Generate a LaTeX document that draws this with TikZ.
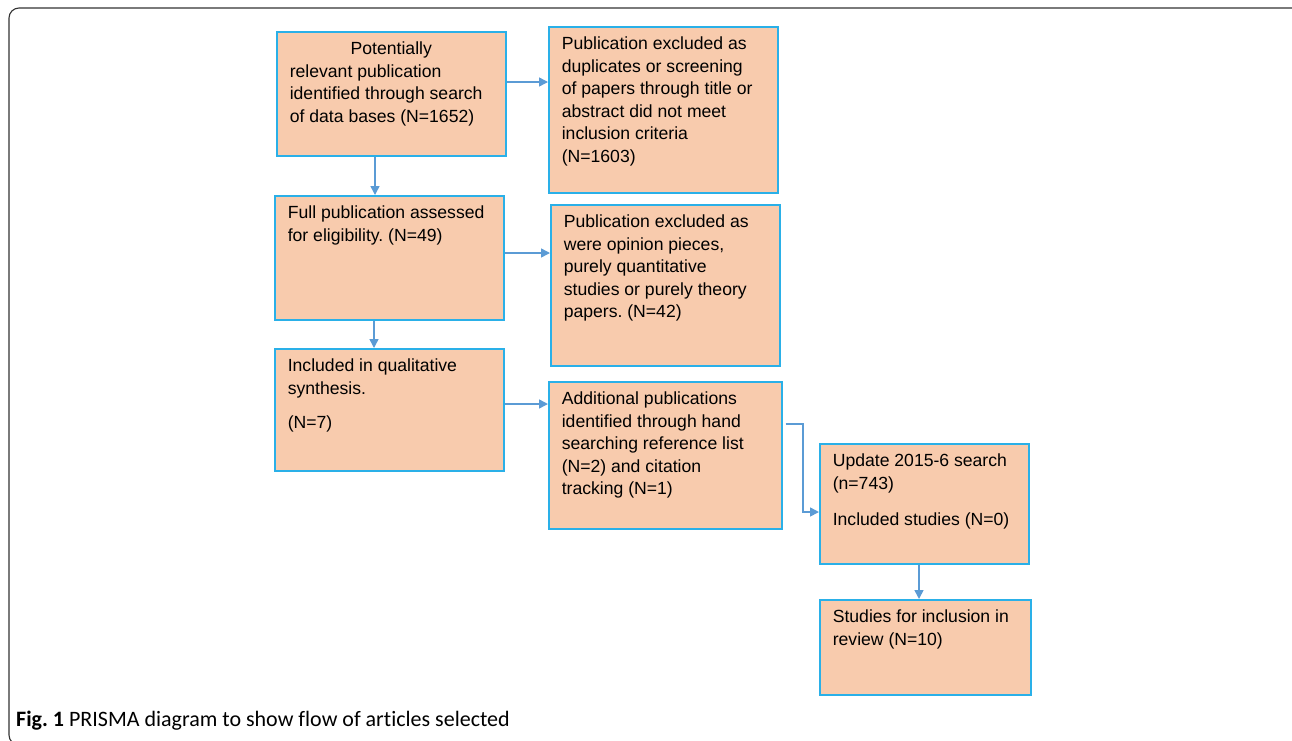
\documentclass[tikz,border=0pt]{standalone}
\usepackage{fontspec}
\setmainfont{Liberation Sans}
\newfontfamily\capfont[Ligatures={NoCommon,NoRequired,NoContextual}]{Carlito}
\usetikzlibrary{arrows.meta,calc}
\definecolor{boxfill}{HTML}{F8CBAD}
\definecolor{boxline}{HTML}{2AB0E8}
\definecolor{arrowblue}{HTML}{5B9BD5}
\definecolor{framegray}{HTML}{333333}
\frenchspacing
\newcommand\bxt[3]{\begin{minipage}[t][\dimexpr#2pt-20pt\relax][t]{\dimexpr#1pt-26pt\relax}\raggedright\fontsize{17.6}{22.5}\selectfont #3\end{minipage}}
\begin{document}
\begin{tikzpicture}[x=1pt,y=-1pt,
  pbox/.style={draw=boxline, fill=boxfill, line width=1.6pt, inner xsep=13pt, inner ysep=10pt, anchor=north west},
  arr/.style={draw=arrowblue, line width=1.5pt, -{Triangle[length=9pt,width=9pt]}}]
\useasboundingbox (0,0) rectangle (1292,740);
\begin{scope}
\clip (0,0) rectangle (1292,740);
\draw[framegray, line width=1.1pt, rounded corners=10pt] (9,8) rectangle (1320,745);
\end{scope}

\node[pbox] (b1) at (276,31) {\bxt{229}{124}{\centerline{Potentially}relevant publication\\identified through search\\of data bases (N=1652)}};
\node[pbox] (b2) at (548,26) {\bxt{229}{166}{Publication excluded as\\duplicates or screening\\of papers through title or\\abstract did not meet\\inclusion criteria\\(N=1603)}};
\node[pbox] (b3) at (274,195) {\bxt{229}{124}{Full publication assessed\\for eligibility. (N=49)}};
\node[pbox] (b4) at (550,204) {\bxt{229}{161}{Publication excluded as\\were opinion pieces,\\purely quantitative\\studies or purely theory\\papers. (N=42)}};
\node[pbox] (b5) at (274,348) {\bxt{229}{122}{Included in qualitative\\synthesis.\par\vspace{12pt}(N=7)}};
\node[pbox] (b6) at (548,381) {\bxt{233}{147}{Additional publications\\identified through hand\\searching reference list\\(N=2) and citation\\tracking (N=1)}};
\node[pbox] (b7) at (819,443) {\bxt{209}{120}{Update 2015-6 search\\(n=743)\par\vspace{14pt}Included studies (N=0)}};
\node[pbox] (b8) at (819,599) {\bxt{211}{95}{Studies for inclusion in\\review (N=10)}};

\draw[arr] (b1.east |- 0,82) -- (b2.west |- 0,82);
\draw[arr] (b1.south -| 375,0) -- (b3.north -| 375,0);
\draw[arr] (b3.east |- 0,253) -- (b4.west |- 0,253);
\draw[arr] (b3.south -| 374,0) -- (b5.north -| 374,0);
\draw[arr] (b5.east |- 0,404) -- (b6.west |- 0,404);
\draw[arr] ([xshift=3pt]b6.east |- 0,424) -| (803,512) -- (b7.west |- 0,512);
\draw[arr] (b7.south -| 919,0) -- (b8.north -| 919,0);

\node[anchor=base west, inner sep=0pt, font=\capfont\fontsize{22}{24}\selectfont] (cap) at (16,726) {\textbf{Fig. 1} PRISMA diagram to show flow of articles selected};
\end{tikzpicture}
\end{document}
